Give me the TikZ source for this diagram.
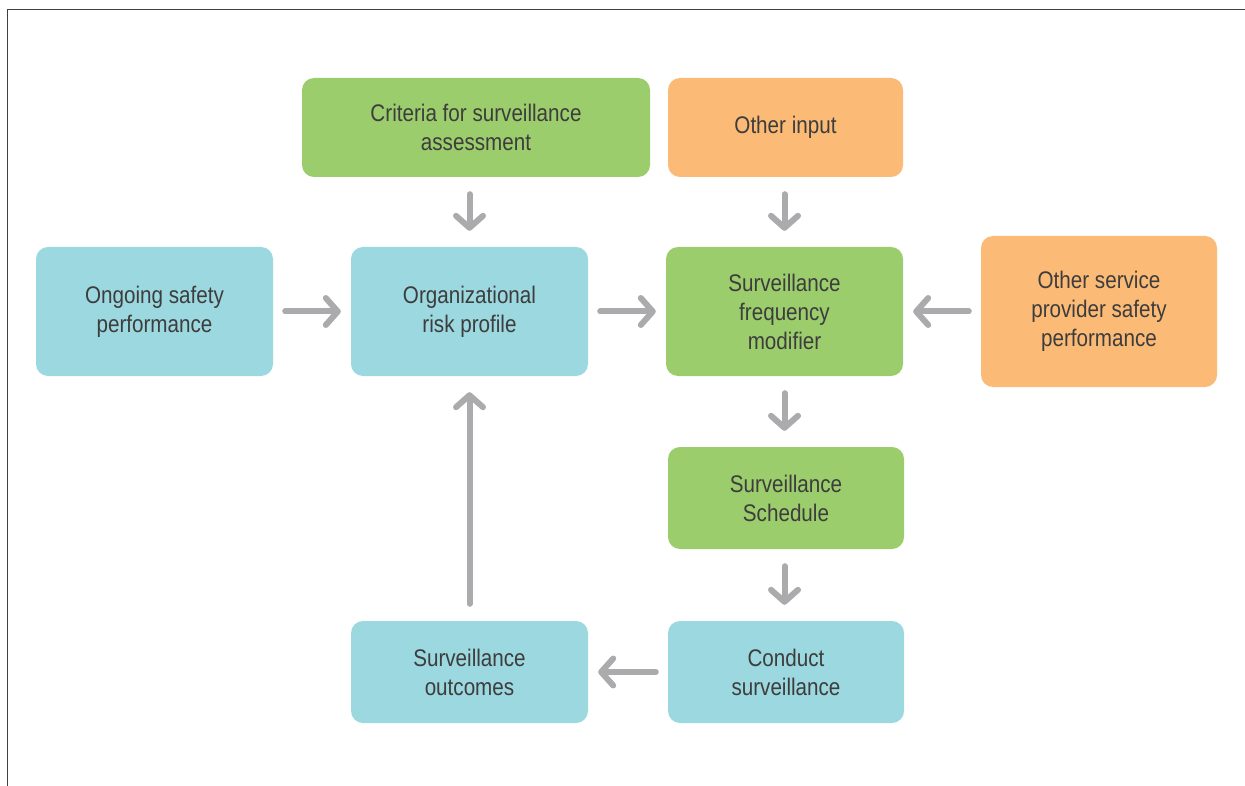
\documentclass[tikz,border=0pt]{standalone}
\usepackage{fontspec}
\setmainfont{Liberation Sans}[FakeStretch=0.86]
\usetikzlibrary{arrows.meta}
\definecolor{boxgreen}{HTML}{9CCD6C}
\definecolor{boxorange}{HTML}{FBBA75}
\definecolor{boxcyan}{HTML}{9CD8DF}
\definecolor{arrowgray}{HTML}{ABABAD}
\definecolor{txtgray}{HTML}{3D3D3D}
\definecolor{framegray}{HTML}{404040}
\tikzset{
  box/.style={rectangle, rounded corners=12pt, inner sep=0pt, align=center,
    text=txtgray, font=\fontsize{24}{29}\selectfont},
  gbox/.style={box, fill=boxgreen},
  obox/.style={box, fill=boxorange},
  cbox/.style={box, fill=boxcyan},
  flow/.style={draw=arrowgray, line width=6pt, line cap=round,
    -{Straight Barb[length=12pt, width=27pt, line cap=round, line join=round]}},
  hflow/.style={flow, shorten <=12pt, shorten >=10pt},
  vflow/.style={flow, shorten <=17pt, shorten >=16pt},
}
\begin{document}
\begin{tikzpicture}[x=1pt,y=-1pt]
\useasboundingbox (0,0) rectangle (1245,786);
\fill[white] (0,0) rectangle (1245,786);
\draw[framegray, line width=1.5pt] (7.5,786) -- (7.5,9.5) -- (1245,9.5);

\node[gbox, minimum width=348pt, minimum height=99pt] (crit) at (476,127.5) {Criteria for surveillance\\assessment};
\node[obox, minimum width=235pt, minimum height=99pt] (other) at (785.5,127.5) {Other input};
\node[cbox, minimum width=237pt, minimum height=129pt] (ongoing) at (154.5,311.5) {Ongoing safety\\performance};
\node[cbox, minimum width=237pt, minimum height=129pt] (org) at (469.5,311.5) {Organizational\\risk profile};
\node[gbox, minimum width=237pt, minimum height=129pt] (sfm) at (784.5,311.5) {Surveillance\\frequency\\modifier};
\node[obox, minimum width=236pt, minimum height=151pt] (osp) at (1099,311.5) {Other service\\provider safety\\performance};
\node[gbox, minimum width=236pt, minimum height=102pt] (sched) at (786,498) {Surveillance\\Schedule};
\node[cbox, minimum width=236pt, minimum height=102pt] (conduct) at (786,672) {Conduct\\surveillance};
\node[cbox, minimum width=237pt, minimum height=102pt] (outc) at (469.5,672) {Surveillance\\outcomes};

\draw[vflow] (org.north |- crit.south) -- (org.north);
\draw[vflow] (sfm.north |- other.south) -- (sfm.north);
\draw[hflow] (ongoing.east) -- (org.west);
\draw[hflow] (org.east) -- (sfm.west);
\draw[hflow] (osp.west |- sfm.east) -- (sfm.east);
\draw[vflow] (sfm.south) -- (sfm.south |- sched.north);
\draw[vflow] (sfm.south |- sched.south) -- (sfm.south |- conduct.north);
\draw[hflow] (conduct.west) -- (outc.east);
\draw[vflow] (outc.north) -- (org.south);
\end{tikzpicture}
\end{document}
